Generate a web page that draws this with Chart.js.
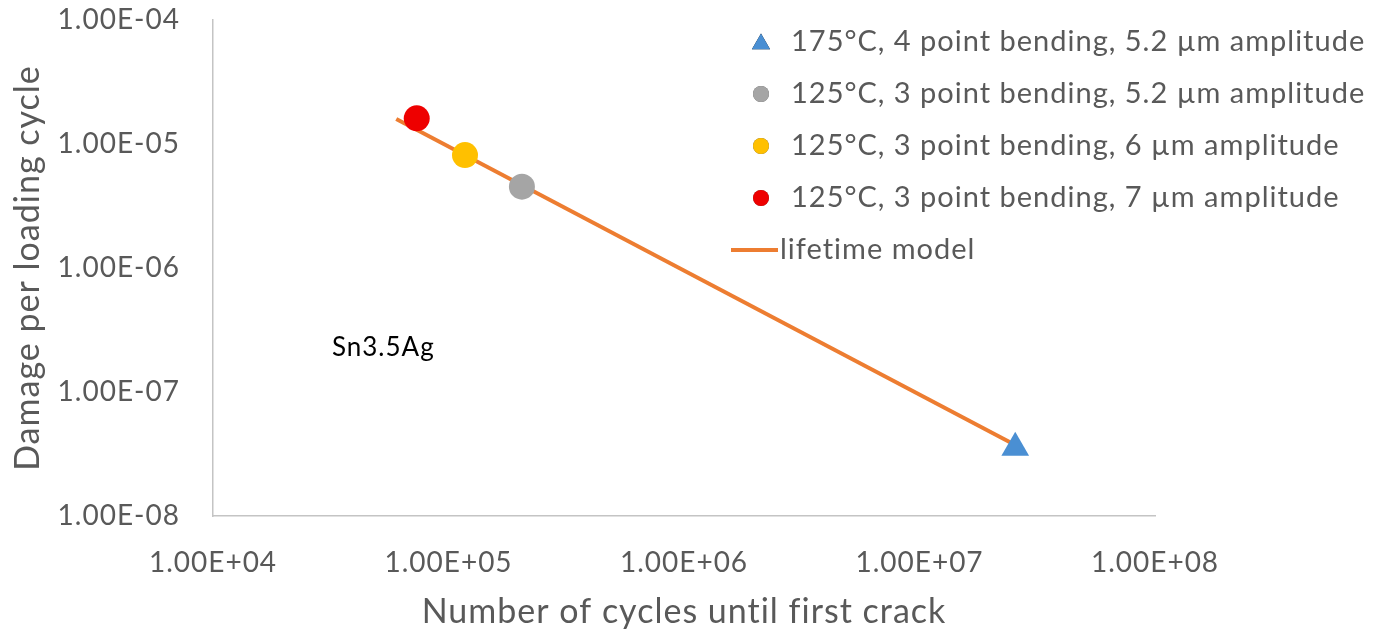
<!DOCTYPE html>
<html>
<head>
<meta charset="utf-8">
<script src="https://cdn.jsdelivr.net/npm/chart.js@4"></script>
<style>
  html, body { margin: 0; padding: 0; background: #fff; }
  #wrap { width: 1383px; height: 633px; }
</style>
</head>
<body>
<div id="wrap"><canvas id="myChart" width="1383" height="633"></canvas></div>
<script>
// series labels
const seriesLabels = [
    '175°C, 4 point bending, 5.2 µm amplitude',
    '125°C, 3 point bending, 5.2 µm amplitude',
    '125°C, 3 point bending, 6 µm amplitude',
    '125°C, 3 point bending, 7 µm amplitude',
    'lifetime model'
];
// measured points (cycles to first crack, damage per cycle)
const cycles = [2.55e7, 2.05e5, 1.175e5, 7.33e4];
const damage = [3.55e-8, 4.53e-6, 8.14e-6, 1.61e-5];
// lifetime model line ends
const modelCycles = [6.0e4, 2.55e7];
const modelDamage = [1.59e-5, 3.74e-8];
// ticks
const xTicks = [1e4, 1e5, 1e6, 1e7, 1e8];
const xTickLabels = ['1.00E+04', '1.00E+05', '1.00E+06', '1.00E+07', '1.00E+08'];
const yTicks = [1e-8, 1e-7, 1e-6, 1e-5, 1e-4];
const yTickLabels = ['1.00E-08', '1.00E-07', '1.00E-06', '1.00E-05', '1.00E-04'];
const noteText = 'Sn3.5Ag';
const notePos = [3.2e4, 2.3e-7];

const colors = ['#4a8fd3', '#a5a5a5', '#ffc000', '#ee0000', '#ed7d31'];
const shapes = ['triangle', 'circle', 'circle', 'circle'];
const FONT = 'Lato, "Open Sans", sans-serif';
const TEXT = '#595959';

const datasets = cycles.map((c, i) => ({
    label: seriesLabels[i],
    data: [{x: c, y: damage[i]}],
    showLine: false,
    pointStyle: shapes[i],
    pointRadius: i === 0 ? 16 : 13,
    pointHoverRadius: i === 0 ? 16 : 13,
    pointBackgroundColor: colors[i],
    pointBorderWidth: 0,
    borderColor: colors[i],
    backgroundColor: colors[i]
}));
datasets.push({
    label: seriesLabels[4],
    data: modelCycles.map((c, i) => ({x: c, y: modelDamage[i]})),
    showLine: true,
    borderColor: colors[4],
    borderWidth: 4,
    pointRadius: 0,
    pointHoverRadius: 0
});

// the original text is spaced a little wider than Lato
const spacing = {
    id: 'spacing',
    beforeDraw(chart) { chart.ctx.letterSpacing = '1px'; }
};

// legend + note drawn on top, overlapping the plot like the original
const overlay = {
    id: 'overlay',
    afterDraw(chart) {
        const ctx = chart.ctx;
        ctx.save();
        ctx.letterSpacing = '1px';
        ctx.font = '29px ' + FONT;
        ctx.textBaseline = 'middle';
        ctx.textAlign = 'left';
        const x0 = 761, y0 = 42, step = 52;
        seriesLabels.forEach((lab, i) => {
            const y = y0 + i * step;
            if (i < 4) {
                Chart.helpers.drawPoint(ctx, {
                    pointStyle: shapes[i], radius: i === 0 ? 10.5 : 8, borderWidth: 0, rotation: 0
                }, x0, y + (i === 0 ? 2 : 0));
                ctx.fillStyle = colors[i];
                ctx.fill();
            } else {
                ctx.strokeStyle = colors[4];
                ctx.lineWidth = 4;
                ctx.beginPath();
                ctx.moveTo(731, y);
                ctx.lineTo(778, y);
                ctx.stroke();
            }
            ctx.fillStyle = TEXT;
            ctx.fillText(lab, i < 4 ? 791 : 780, y);
        });
        // note
        const xs = chart.scales.x, ys = chart.scales.y;
        ctx.fillStyle = '#000';
        ctx.font = '26px ' + FONT;
        ctx.fillText(noteText, xs.getPixelForValue(notePos[0]), ys.getPixelForValue(notePos[1]));
        ctx.restore();
    }
};

const ctx = document.getElementById('myChart').getContext('2d');
new Chart(ctx, {
    type: 'scatter',
    data: { datasets: datasets },
    options: {
        responsive: false,
        animation: false,
        layout: { padding: { left: 0, top: 20, right: 228, bottom: 0 } },
        plugins: {
            legend: { display: false },
            tooltip: { enabled: false }
        },
        scales: {
            x: {
                type: 'logarithmic',
                min: xTicks[0],
                max: xTicks[xTicks.length - 1],
                afterBuildTicks: s => { s.ticks = xTicks.map(v => ({value: v})); },
                afterFit: s => { s.height = 117; s.paddingLeft = 0; s.paddingRight = 0; },
                grid: { display: false, drawTicks: false },
                border: { color: '#c4c4c4', width: 1.5 },
                ticks: {
                    padding: 30,
                    color: TEXT,
                    font: { family: FONT, size: 28 },
                    maxRotation: 0,
                    autoSkip: false,
                    callback: (v, i) => xTickLabels[i]
                },
                title: {
                    display: true,
                    text: 'Number of cycles until first crack',
                    color: TEXT,
                    font: { family: FONT, size: 34 },
                    padding: { top: 0, bottom: 1 }
                }
            },
            y: {
                type: 'logarithmic',
                min: yTicks[0],
                max: yTicks[yTicks.length - 1],
                afterBuildTicks: s => { s.ticks = yTicks.map(v => ({value: v})); },
                afterFit: s => { s.width = 213; s.paddingTop = 0; s.paddingBottom = 0; },
                grid: { display: false, drawTicks: false },
                border: { color: '#c4c4c4', width: 1.5 },
                ticks: {
                    padding: 33,
                    color: TEXT,
                    font: { family: FONT, size: 28 },
                    autoSkip: false,
                    callback: (v, i) => yTickLabels[i]
                },
                title: {
                    display: true,
                    text: 'Damage per loading cycle',
                    color: TEXT,
                    font: { family: FONT, size: 34 },
                    padding: { top: 8, bottom: 0 }
                }
            }
        }
    },
    plugins: [spacing, overlay]
});
</script>
</body>
</html>
